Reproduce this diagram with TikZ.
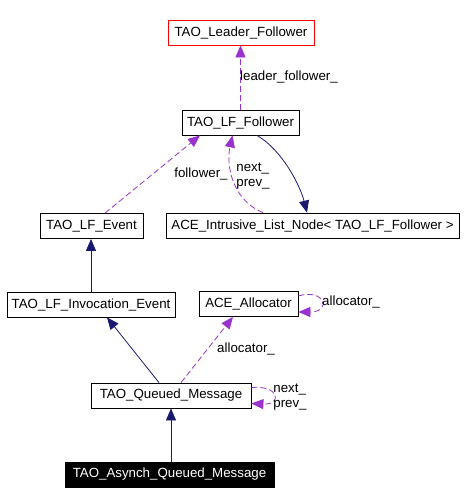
\documentclass[tikz,border=0pt]{standalone}
\usepackage{fontspec}
\setmainfont{Liberation Sans}
\usepackage{xcolor}
\usetikzlibrary{arrows.meta,calc}
\definecolor{inheritblue}{HTML}{191970}
\definecolor{usepurple}{HTML}{9A32CD}

\begin{document}
\begin{tikzpicture}[x=1pt, y=-1pt,
  cls/.style={draw=black, line width=0.8pt, inner sep=0pt, minimum height=25pt,
    font=\fontsize{13.3}{15}\selectfont},
  lbl/.style={inner sep=0pt, font=\fontsize{13.3}{15}\selectfont},
  inherit/.style={line width=0.8pt, inheritblue, -{Triangle[length=12pt,width=10pt]}},
  uses/.style={line width=0.8pt, usepurple, dash pattern=on 6pt off 3pt,
    -{Triangle[length=12pt,width=10pt]}}]
\useasboundingbox (0,0) rectangle (466,504);
% CLASS BOXES
\node[cls, draw=red, minimum width=146pt] (leader) at (241,32.5) {TAO\_Leader\_Follower};
\node[cls, minimum width=117pt] (follower) at (240.5,122.5) {TAO\_LF\_Follower};
\node[cls, minimum width=293pt] (listnode) at (312.5,225.5) {ACE\_Intrusive\_List\_Node< TAO\_LF\_Follower >};
\node[cls, minimum width=103pt] (event) at (91.5,226) {TAO\_LF\_Event};
\node[cls, minimum width=168pt] (invocation) at (91,304.5) {TAO\_LF\_Invocation\_Event};
\node[cls, minimum width=99pt] (allocator) at (248.5,304) {ACE\_Allocator};
\node[cls, minimum width=160pt] (queued) at (171,395.5) {TAO\_Queued\_Message};
\node[cls, fill=black, text=white, minimum width=209pt] (asynch) at (169.5,474.5) {TAO\_Asynch\_Queued\_Message};
% MEMBER LINKS (dashed)
\draw[uses] (follower.north) -- (follower.north |- leader.south);
\node[lbl, anchor=west] (lleader) at (240,77) {leader\_follower\_};
\draw[uses] ($(event.north)+(13.5,0)$) -- ($(follower.south)+(-40.5,0)$);
\node[lbl] (lfollower) at (201,174) {follower\_};
\draw[uses] ($(listnode.north)+(-49.5,0)$) .. controls (232,200) and (226,165) .. ($(follower.south)+(-8,0)$);
\node[lbl, align=left] (lnextprev) at (253,176) {next\_\\prev\_};
\draw[uses] ($(queued.north)+(10,0)$) -- ($(allocator.south)+(-15.5,0)$);
\node[lbl, anchor=west] (lalloc) at (217,349) {allocator\_};
\draw[uses] ($(allocator.east)+(0,-8)$) .. controls (325,288) and (332,312) .. ($(allocator.east)+(0,8)$);
\node[lbl, anchor=west] (lallocself) at (322,302) {allocator\_};
\draw[uses] ($(queued.east)+(0,-8)$) .. controls (280,385) and (282,405) .. ($(queued.east)+(0,8)$);
\node[lbl, align=left] (lqueuedself) at (290,397) {next\_\\prev\_};
% INHERITANCE (solid)
\draw[inherit] ($(follower.south)+(16.5,0)$) .. controls (282,150) and (300,185) .. ($(listnode.north)+(-5.5,0)$);
\draw[inherit] (invocation.north) -- (invocation.north |- event.south);
\draw[inherit] ($(queued.north)+(-12,0)$) -- ($(invocation.south)+(16,0)$);
\draw[inherit] (queued.south |- asynch.north) -- (queued.south);
\end{tikzpicture}
\end{document}
